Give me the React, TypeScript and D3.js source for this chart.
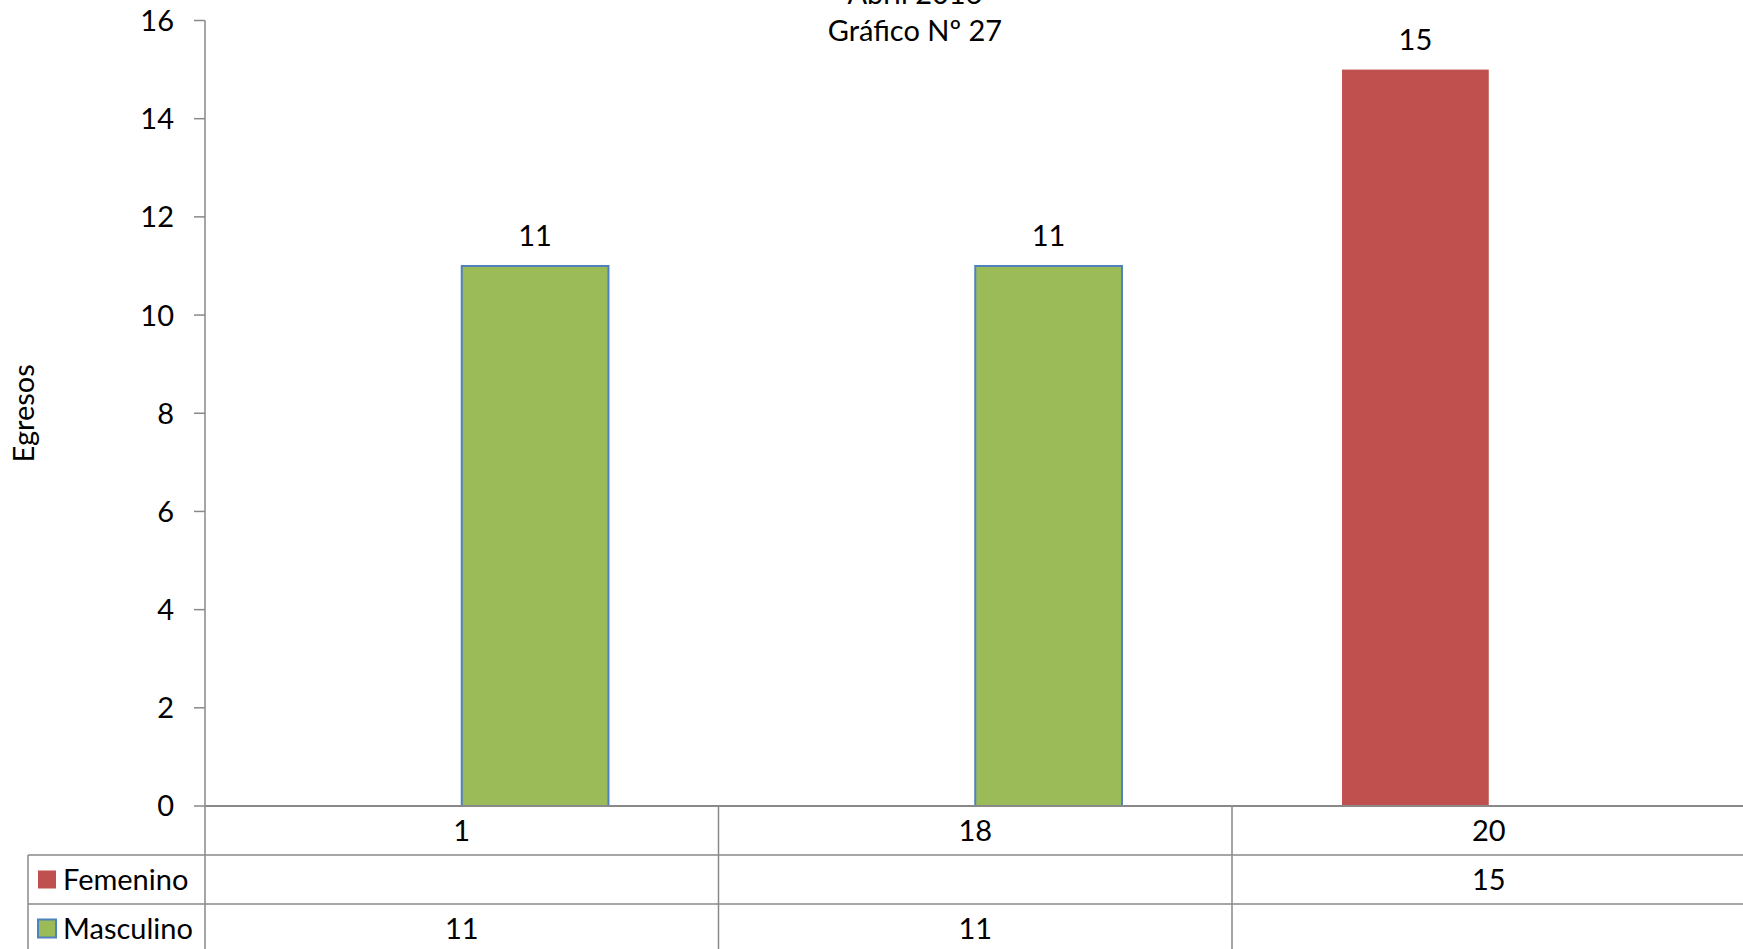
import React from "react";
import * as d3 from "d3";

// chart data
const categories = ["1", "18", "20"];
const seriesNames = ["Femenino", "Masculino"];
const femenino: (number | null)[] = [null, null, 15];
const masculino: (number | null)[] = [11, 11, null];
const yTicks = [0, 2, 4, 6, 8, 10, 12, 14, 16];
const titleLines = ["Abril 2016", "Gráfico Nº 27"];
const yTitle = "Egresos";

const seriesColor: Record<string, string> = { Femenino: "#C0504D", Masculino: "#9BBB59" };
const seriesStroke: Record<string, string | null> = { Femenino: null, Masculino: "#4F81BD" };

const W = 1743;
const H = 949;
const FONT = "Lato, 'Open Sans', sans-serif";
const FS = 29;
const GRID = "#898989";

const App = () => {
  const plot = { left: 205, right: 1745.5, top: 20.5, bottom: 806 };
  const rowH = 49;
  const tableLeft = 28;

  const x = d3.scaleBand().domain(categories).range([plot.left, plot.right]);
  // Excel-style gap width 150% -> inner band of 2 bars out of 3.5 bar widths
  const barW = x.bandwidth() / 3.5;
  const inner = d3
    .scaleBand()
    .domain(seriesNames)
    .range([x.bandwidth() / 2 - barW, x.bandwidth() / 2 + barW]);
  const y = d3.scaleLinear().domain([0, 16]).range([plot.bottom, plot.top]);

  const seriesData: Record<string, (number | null)[]> = { Femenino: femenino, Masculino: masculino };

  const rowY = (i: number) => plot.bottom + rowH * i; // top of row i (0 = categories)
  const tableBottom = H + 5;

  return (
    <div style={{ position: "absolute", left: 0, top: 0 }}>
      <svg width={W} height={H} style={{ display: "block", background: "#fff" }} fontFamily={FONT}>
        {/* title */}
        {titleLines.map((t, i) => (
          <text key={t} x={915} y={4 + i * 37} textAnchor="middle" fontSize={FS} fill="#000">
            {t}
          </text>
        ))}

        {/* y axis */}
        <line x1={plot.left} x2={plot.left} y1={plot.top} y2={tableBottom} stroke={GRID} strokeWidth={1.5} />
        {yTicks.map((t) => (
          <g key={t}>
            <line x1={plot.left - 11} x2={plot.left} y1={y(t)} y2={y(t)} stroke={GRID} strokeWidth={1.5} />
            <text x={plot.left - 31} y={y(t)} dy="0.36em" textAnchor="end" fontSize={FS} fill="#000">
              {t}
            </text>
          </g>
        ))}
        <text
          transform={`translate(34,${(plot.top + plot.bottom) / 2}) rotate(-90)`}
          textAnchor="middle"
          fontSize={FS}
          fill="#000"
        >
          {yTitle}
        </text>

        {/* bars */}
        {seriesNames.map((s) =>
          categories.map((c, i) => {
            const v = seriesData[s][i];
            if (v == null) return null;
            const bx = (x(c) ?? 0) + (inner(s) ?? 0);
            const stroke = seriesStroke[s];
            return (
              <g key={s + c}>
                <rect
                  x={bx}
                  y={y(v)}
                  width={inner.bandwidth()}
                  height={y(0) - y(v)}
                  fill={seriesColor[s]}
                  stroke={stroke ?? "none"}
                  strokeWidth={stroke ? 2 : 0}
                />
                <text
                  x={bx + inner.bandwidth() / 2}
                  y={y(v) - 20}
                  textAnchor="middle"
                  fontSize={FS}
                  fill="#000"
                >
                  {v}
                </text>
              </g>
            );
          })
        )}

        {/* data table */}
        <line x1={plot.left} x2={W} y1={plot.bottom} y2={plot.bottom} stroke={GRID} strokeWidth={2} />
        {[1, 2].map((r) => (
          <line key={r} x1={tableLeft} x2={W} y1={rowY(r)} y2={rowY(r)} stroke={GRID} strokeWidth={1.5} />
        ))}
        <line x1={tableLeft} x2={tableLeft} y1={rowY(1)} y2={tableBottom} stroke={GRID} strokeWidth={1.5} />
        {categories.slice(1).map((c) => (
          <line
            key={c}
            x1={x(c) ?? 0}
            x2={x(c) ?? 0}
            y1={plot.bottom}
            y2={tableBottom}
            stroke={GRID}
            strokeWidth={1.5}
          />
        ))}
        {categories.map((c) => (
          <text
            key={c}
            x={(x(c) ?? 0) + x.bandwidth() / 2}
            y={rowY(0) + rowH / 2}
            dy="0.36em"
            textAnchor="middle"
            fontSize={FS}
            fill="#000"
          >
            {c}
          </text>
        ))}
        {seriesNames.map((s, r) => {
          const cy = rowY(r + 1) + rowH / 2;
          const stroke = seriesStroke[s];
          return (
            <g key={s}>
              <rect
                x={tableLeft + 10}
                y={cy - 9}
                width={18}
                height={18}
                fill={seriesColor[s]}
                stroke={stroke ?? "none"}
                strokeWidth={stroke ? 2 : 0}
              />
              <text x={tableLeft + 35} y={cy} dy="0.36em" fontSize={FS} fill="#000">
                {s}
              </text>
              {categories.map((c, i) => {
                const v = seriesData[s][i];
                if (v == null) return null;
                return (
                  <text
                    key={c}
                    x={(x(c) ?? 0) + x.bandwidth() / 2}
                    y={cy}
                    dy="0.36em"
                    textAnchor="middle"
                    fontSize={FS}
                    fill="#000"
                  >
                    {v}
                  </text>
                );
              })}
            </g>
          );
        })}
      </svg>
    </div>
  );
};

export default App;
